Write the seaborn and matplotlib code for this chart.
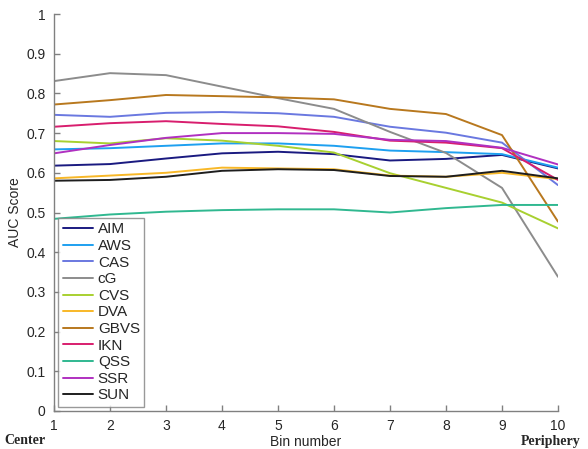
import pandas as pd
import matplotlib.pyplot as plt
import seaborn as sns

# AUC per bin (1 = center, 10 = periphery)
bins = [1, 2, 3, 4, 5, 6, 7, 8, 9, 10]
models = ["AIM", "AWS", "CAS", "cG", "CVS", "DVA", "GBVS", "IKN", "QSS", "SSR", "SUN"]

aim = [0.618, 0.622, 0.636, 0.649, 0.653, 0.647, 0.631, 0.635, 0.645, 0.611]
aws = [0.659, 0.662, 0.668, 0.674, 0.674, 0.668, 0.656, 0.652, 0.647, 0.613]
cas = [0.746, 0.741, 0.751, 0.753, 0.750, 0.741, 0.716, 0.701, 0.676, 0.569]
cg = [0.831, 0.851, 0.846, 0.817, 0.788, 0.761, 0.703, 0.650, 0.562, 0.338]
cvs = [0.680, 0.674, 0.687, 0.681, 0.668, 0.651, 0.599, 0.562, 0.525, 0.460]
dva = [0.586, 0.593, 0.600, 0.613, 0.611, 0.609, 0.593, 0.590, 0.600, 0.584]
gbvs = [0.772, 0.783, 0.796, 0.793, 0.790, 0.785, 0.761, 0.748, 0.695, 0.477]
ikn = [0.716, 0.725, 0.730, 0.723, 0.717, 0.703, 0.681, 0.676, 0.662, 0.582]
qss = [0.484, 0.495, 0.502, 0.506, 0.508, 0.508, 0.500, 0.511, 0.519, 0.519]
ssr = [0.649, 0.670, 0.688, 0.700, 0.700, 0.698, 0.683, 0.680, 0.663, 0.621]
sun = [0.580, 0.582, 0.590, 0.605, 0.609, 0.607, 0.592, 0.590, 0.605, 0.586]

colors = ["#1a1a80", "#1ea0f0", "#6a78e0", "#8c8c8c", "#a8d030", "#f8b828",
          "#b8781e", "#d81e6e", "#30b890", "#b030c0", "#1e1e1e"]

series = [aim, aws, cas, cg, cvs, dva, gbvs, ikn, qss, ssr, sun]
rows = []
for name, vals in zip(models, series):
    for b, v in zip(bins, vals):
        rows.append({"bin": b, "auc": v, "model": name})
data = pd.DataFrame(rows)

sns.set_theme(style="white")
plt.rcParams["font.family"] = ["Liberation Sans", "DejaVu Sans"]

fig = plt.figure(figsize=(5.88, 4.49), dpi=100)
ax = fig.add_axes([54 / 588, 38 / 449, 504 / 588, 397 / 449])

sns.lineplot(data=data, x="bin", y="auc", hue="model", hue_order=models,
             palette=colors, linewidth=1.4, ax=ax, legend=True)

ax.set_xlim(1, 10)
ax.set_ylim(0, 1)
ax.set_xticks(bins)
ax.set_yticks([i / 10 for i in range(11)])
ax.set_yticklabels(["0"] + [f"{i / 10:.1f}" for i in range(1, 10)] + ["1"])
ax.tick_params(bottom=True, left=True, direction="in", length=4, width=1,
               color="#808080", labelsize=10, pad=6)

for side in ["top", "right"]:
    ax.spines[side].set_visible(False)
for side in ["left", "bottom"]:
    ax.spines[side].set_color("#808080")
    ax.spines[side].set_linewidth(1.0)

ax.set_xlabel("Bin number", fontsize=10, labelpad=1)
ax.set_ylabel("AUC Score", fontsize=10, labelpad=3)

fig.text(4 / 588, 1 - 441 / 449, "Center", family="Liberation Serif",
         fontweight="bold", fontsize=10, va="center", ha="left")
fig.text(581 / 588, 1 - 441 / 449, "Periphery", family="Liberation Serif",
         fontweight="bold", fontsize=10, va="center", ha="right")

leg = ax.legend(loc="lower left", bbox_to_anchor=(0.008, 0.01), fontsize=11,
                frameon=True, fancybox=False, edgecolor="#808080",
                handlelength=2.0, handletextpad=0.3, labelspacing=0.17,
                borderpad=0.3, borderaxespad=0)
leg.get_frame().set_linewidth(1.0)

plt.savefig("out.png", dpi=100)
